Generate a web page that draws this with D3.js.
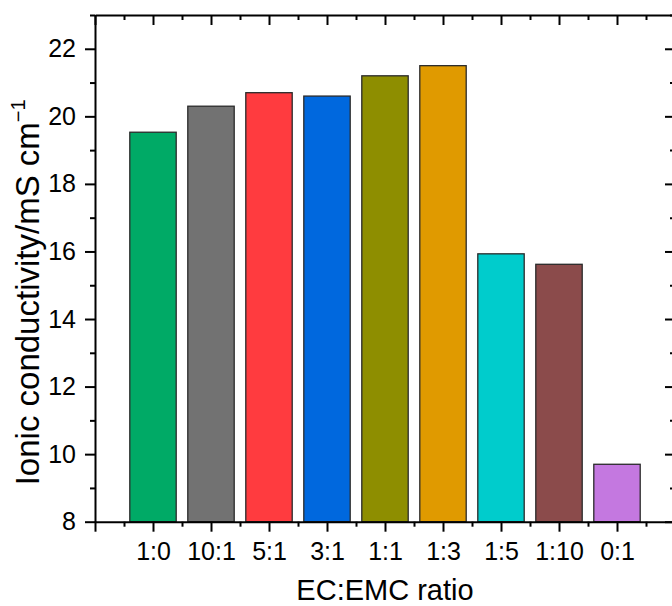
<!DOCTYPE html>
<html>
<head>
<meta charset="utf-8">
<script src="https://cdn.jsdelivr.net/npm/d3@7/dist/d3.min.js"></script>
<style>
  html, body { margin: 0; padding: 0; background: #fff; }
  svg { display: block; }
  text { font-family: "Liberation Sans", Arial, sans-serif; fill: #000; }
</style>
</head>
<body>
<svg id="chart" width="672" height="606"></svg>
<script>
const categories = ["1:0", "10:1", "5:1", "3:1", "1:1", "1:3", "1:5", "1:10", "0:1"];
const values = [19.53, 20.3, 20.7, 20.6, 21.2, 21.5, 15.93, 15.62, 9.7];
const colors = ["#00AA66", "#727272", "#FF3B3F", "#0068DE", "#8E8E00", "#E09A00", "#00CCCC", "#8B4B4B", "#C478E0"];
const yTicks = [8, 10, 12, 14, 16, 18, 20, 22];
const yMinorTicks = [9, 11, 13, 15, 17, 19, 21, 23];

const svg = d3.select("#chart");
const pLeft = 95, pRight = 675, pTop = 15, pBottom = 521.7;

const x = d3.scaleLinear().domain([0, categories.length + 1]).range([pLeft, pRight]);
const y = d3.scaleLinear().domain([8, 23]).range([pBottom, pTop]);
const barW = (x(1) - x(0)) * 0.8;

// bars
svg.append("g").selectAll("rect").data(values).join("rect")
  .attr("x", (d, i) => x(i + 1) - barW / 2)
  .attr("y", d => y(d))
  .attr("width", barW)
  .attr("height", d => y(8) - y(d))
  .attr("fill", (d, i) => colors[i])
  .attr("stroke", "#2a2a2a")
  .attr("stroke-width", 1.3);

const majX = d3.range(0, categories.length + 2);
const minX = d3.range(0.5, categories.length + 1, 1);

function styleAxis(g) {
  g.select(".domain").attr("stroke", "#000").attr("stroke-width", 2);
  g.selectAll(".tick line").attr("stroke", "#000").attr("stroke-width", 2);
}
function minorStyle(g) {
  g.select(".domain").remove();
  g.selectAll(".tick line").attr("stroke", "#000").attr("stroke-width", 2);
}

// bottom axis major
const gB = svg.append("g").attr("transform", `translate(0,${pBottom})`)
  .call(d3.axisBottom(x).tickValues(majX).tickSize(10).tickSizeOuter(0)
    .tickFormat(d => (d >= 1 && d <= categories.length) ? categories[d - 1] : ""));
styleAxis(gB);
gB.attr("font-size", 25);
gB.selectAll(".tick text").attr("font-size", 25).attr("dy", 0).attr("y", 38.5)
  .style("font-family", "'Liberation Sans', Arial, sans-serif").attr("fill", "#000");
svg.append("g").attr("transform", `translate(0,${pBottom})`)
  .call(d3.axisBottom(x).tickValues(minX).tickSize(5).tickSizeOuter(0).tickFormat(""))
  .call(minorStyle);

// top axis (inward ticks)
const gT = svg.append("g").attr("transform", `translate(0,${pTop})`)
  .call(d3.axisTop(x).tickValues(majX).tickSize(-10).tickSizeOuter(0).tickFormat(""));
styleAxis(gT);
svg.append("g").attr("transform", `translate(0,${pTop})`)
  .call(d3.axisTop(x).tickValues(minX).tickSize(-5).tickSizeOuter(0).tickFormat(""))
  .call(minorStyle);

// left axis
const gL = svg.append("g").attr("transform", `translate(${pLeft},0)`)
  .call(d3.axisLeft(y).tickValues(yTicks).tickSize(10).tickSizeOuter(0).tickFormat(d3.format("d")));
styleAxis(gL);
gL.attr("font-size", 25);
gL.selectAll(".tick text").attr("font-size", 25).attr("x", -19)
  .style("font-family", "'Liberation Sans', Arial, sans-serif").attr("fill", "#000");
svg.append("g").attr("transform", `translate(${pLeft},0)`)
  .call(d3.axisLeft(y).tickValues(yMinorTicks).tickSize(5).tickSizeOuter(0).tickFormat(""))
  .call(minorStyle);

// right axis (inward ticks)
const gR = svg.append("g").attr("transform", `translate(${pRight},0)`)
  .call(d3.axisRight(y).tickValues(yTicks).tickSize(-10).tickSizeOuter(0).tickFormat(""));
styleAxis(gR);
svg.append("g").attr("transform", `translate(${pRight},0)`)
  .call(d3.axisRight(y).tickValues(yMinorTicks).tickSize(-5).tickSizeOuter(0).tickFormat(""))
  .call(minorStyle);

// axis titles
svg.append("text").attr("x", (pLeft + pRight) / 2).attr("y", 600)
  .attr("text-anchor", "middle").attr("font-size", 29).text("EC:EMC ratio");

const yl = svg.append("text")
  .attr("transform", `translate(39,${(pTop + pBottom) / 2 + 24}) rotate(-90)`)
  .attr("text-anchor", "middle").attr("font-size", 33);
yl.append("tspan").text("Ionic conductivity/mS cm");
yl.append("tspan").attr("font-size", 20).attr("dy", -14).text("\u22121");
</script>
</body>
</html>
